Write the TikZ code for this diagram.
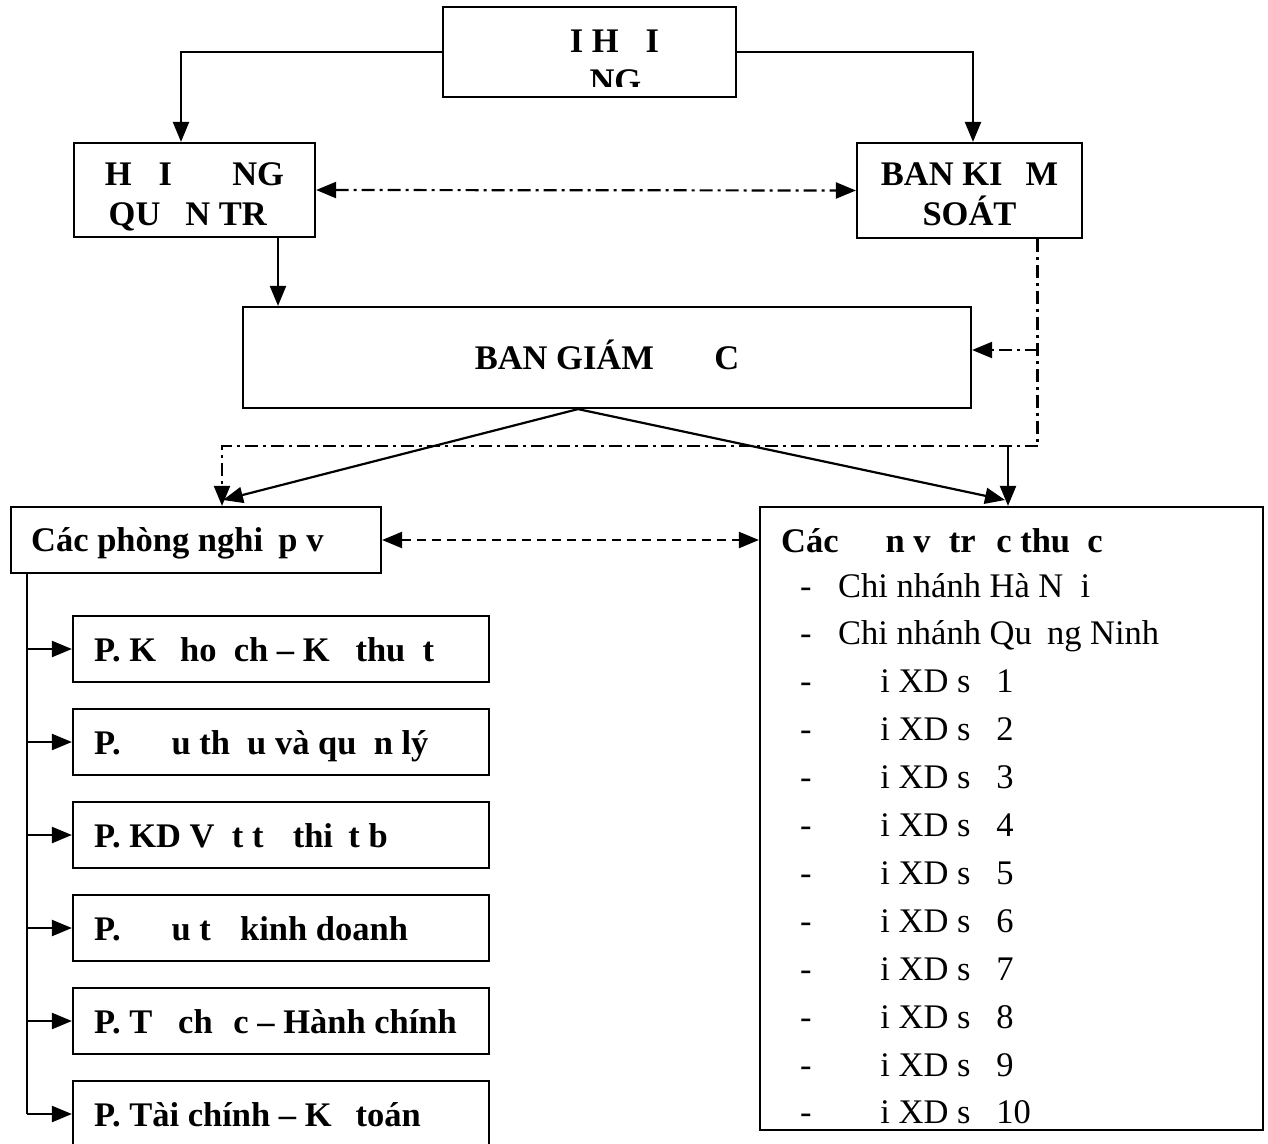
\documentclass[tikz,border=0pt]{standalone}
\usepackage{fontspec}
\setmainfont{Liberation Serif}
\usetikzlibrary{arrows.meta}
\begin{document}
\begin{tikzpicture}[x=1pt,y=-1pt,
  box/.style={draw, line width=2.2pt, inner sep=0pt, minimum width=#1},
  txt/.style={inner sep=0pt, anchor=base, font=\fontsize{34.5}{40}\selectfont\bfseries},
  ltxt/.style={inner sep=0pt, anchor=base west, font=\fontsize{34.5}{40}\selectfont\bfseries},
  rtxt/.style={inner sep=0pt, anchor=base west, font=\fontsize{34.5}{40}\selectfont},
  conn/.style={line width=2.2pt},
  arr/.style={conn, -{Triangle[length=20pt,width=16pt]}},
  arrboth/.style={conn, {Triangle[length=20pt,width=16pt]}-{Triangle[length=20pt,width=16pt]}},
  dashdot/.style={dash pattern=on 13pt off 5pt on 3pt off 5pt},
  dashline/.style={dash pattern=on 9pt off 6pt}]
\useasboundingbox (0,0) rectangle (1268,1143);
\clip (0,0) rectangle (1268,1143);

% boxes
\node[box=293pt, minimum height=90pt] (dhcd) at (589.5,52) {};
\node[box=241pt, minimum height=94pt] (hdqt) at (194.5,190) {};
\node[box=225pt, minimum height=95pt] (bks) at (969.5,190.5) {};
\node[box=728pt, minimum height=101pt] (bgd) at (607,357.5) {};
\node[box=370pt, minimum height=66pt] (cpn) at (196,540) {};
\node[box=503pt, minimum height=623pt] (dvtt) at (1011.5,818.5) {};
\foreach \k in {0,...,5}{
  \node[box=416pt, minimum height=66pt] (p\k) at (281,649+93*\k) {};
}

% texts
\node[txt] (t1) at (589.5,52) {\hphantom{ĐẠ}I H\hphantom{Ộ}I};
\begin{scope}
\clip (443,0) rectangle (736,86);
\node[txt] (t2) at (589.5,92) {\hphantom{ĐỒ}NG};
\end{scope}
\node[txt] (t3) at (194.5,185) {H\hphantom{Ộ}I \hphantom{ĐỒ}NG};
\node[txt] (t4) at (194.5,225) {QU\hphantom{Ả}N TR\hphantom{Ị}};
\node[txt] (t5) at (969.5,185) {BAN KI\hphantom{Ể}M};
\node[txt] (t6) at (969.5,225) {SOÁT};
\node[txt] (t7) at (607,369) {BAN GIÁM \hphantom{ĐỐ}C};
\node[ltxt] (t8) at (31,551) {Các phòng nghi\hphantom{ệ}p v\hphantom{ụ}};
\node[ltxt] (t9) at (781,552) {Các \hphantom{đơ}n v\hphantom{ị} tr\hphantom{ự}c thu\hphantom{ộ}c};

\foreach \t [count=\i from 0] in {{Chi nhánh Hà N\hphantom{ộ}i},{Chi nhánh Qu\hphantom{ả}ng Ninh},
  {\hphantom{Độ}i XD s\hphantom{ố} 1},{\hphantom{Độ}i XD s\hphantom{ố} 2},{\hphantom{Độ}i XD s\hphantom{ố} 3},
  {\hphantom{Độ}i XD s\hphantom{ố} 4},{\hphantom{Độ}i XD s\hphantom{ố} 5},{\hphantom{Độ}i XD s\hphantom{ố} 6},
  {\hphantom{Độ}i XD s\hphantom{ố} 7},{\hphantom{Độ}i XD s\hphantom{ố} 8},{\hphantom{Độ}i XD s\hphantom{ố} 9},
  {\hphantom{Độ}i XD s\hphantom{ố} 10}}{
  \node[rtxt] (d\i) at (800,597+47.9*\i) {-};
  \node[rtxt] (it\i) at (838,597+47.9*\i) {\t};
}

\foreach \t [count=\i from 0] in {{P. K\hphantom{ế} ho\hphantom{ạ}ch – K\hphantom{ỹ} thu\hphantom{ậ}t},
  {P. \hphantom{Đấ}u th\hphantom{ầ}u và qu\hphantom{ả}n lý},
  {P. KD V\hphantom{ậ}t t\hphantom{ư} thi\hphantom{ế}t b\hphantom{ị}},
  {P. \hphantom{Đầ}u t\hphantom{ư} kinh doanh},
  {P. T\hphantom{ổ} ch\hphantom{ứ}c – Hành chính},
  {P. Tài chính – K\hphantom{ế} toán}}{
  \node[ltxt] (pt\i) at (94,661+93*\i) {\t};
}

% helper coordinates
\coordinate (a1) at (181,0);
\coordinate (a2) at (973,0);
\coordinate (a3) at (278,0);
\coordinate (a4) at (1037.5,0);
\coordinate (a5) at (222,0);
\coordinate (a6) at (578,0);
\coordinate (a7) at (27,0);
\coordinate (j1) at (1037.5,446);
\coordinate (j2) at (1037.5,350);
\coordinate (j3) at (1008,446);
\coordinate (e1) at (223,500);
\coordinate (e2) at (1005,500);

% connectors
\draw[arr] (dhcd.west) -| (a1 |- hdqt.north);
\draw[arr] (dhcd.east) -| (a2 |- bks.north);
\draw[arrboth, dashdot] (hdqt.east) -- (bks.west);
\draw[arr] (a3 |- hdqt.south) -- (a3 |- bgd.north);
\draw[conn, dashdot] (a4 |- bks.south) -- (j1);
\draw[arr, dashdot] (j1) -| (a5 |- cpn.north);
\draw[arr, dashdot] (j2) -- (j2 -| bgd.east);
\draw[arr] (a6 |- bgd.south) -- (e1);
\draw[arr] (a6 |- bgd.south) -- (e2);
\draw[arr] (j3) -- (j3 |- dvtt.north);
\draw[arrboth, dashline] (cpn.east) -- (cpn.east -| dvtt.west);
\draw[conn] (a7 |- cpn.south) -- (a7 |- p5.west);
\foreach \k in {0,...,5}{
  \draw[arr] (a7 |- p\k.west) -- (p\k.west);
}
\end{tikzpicture}
\end{document}
